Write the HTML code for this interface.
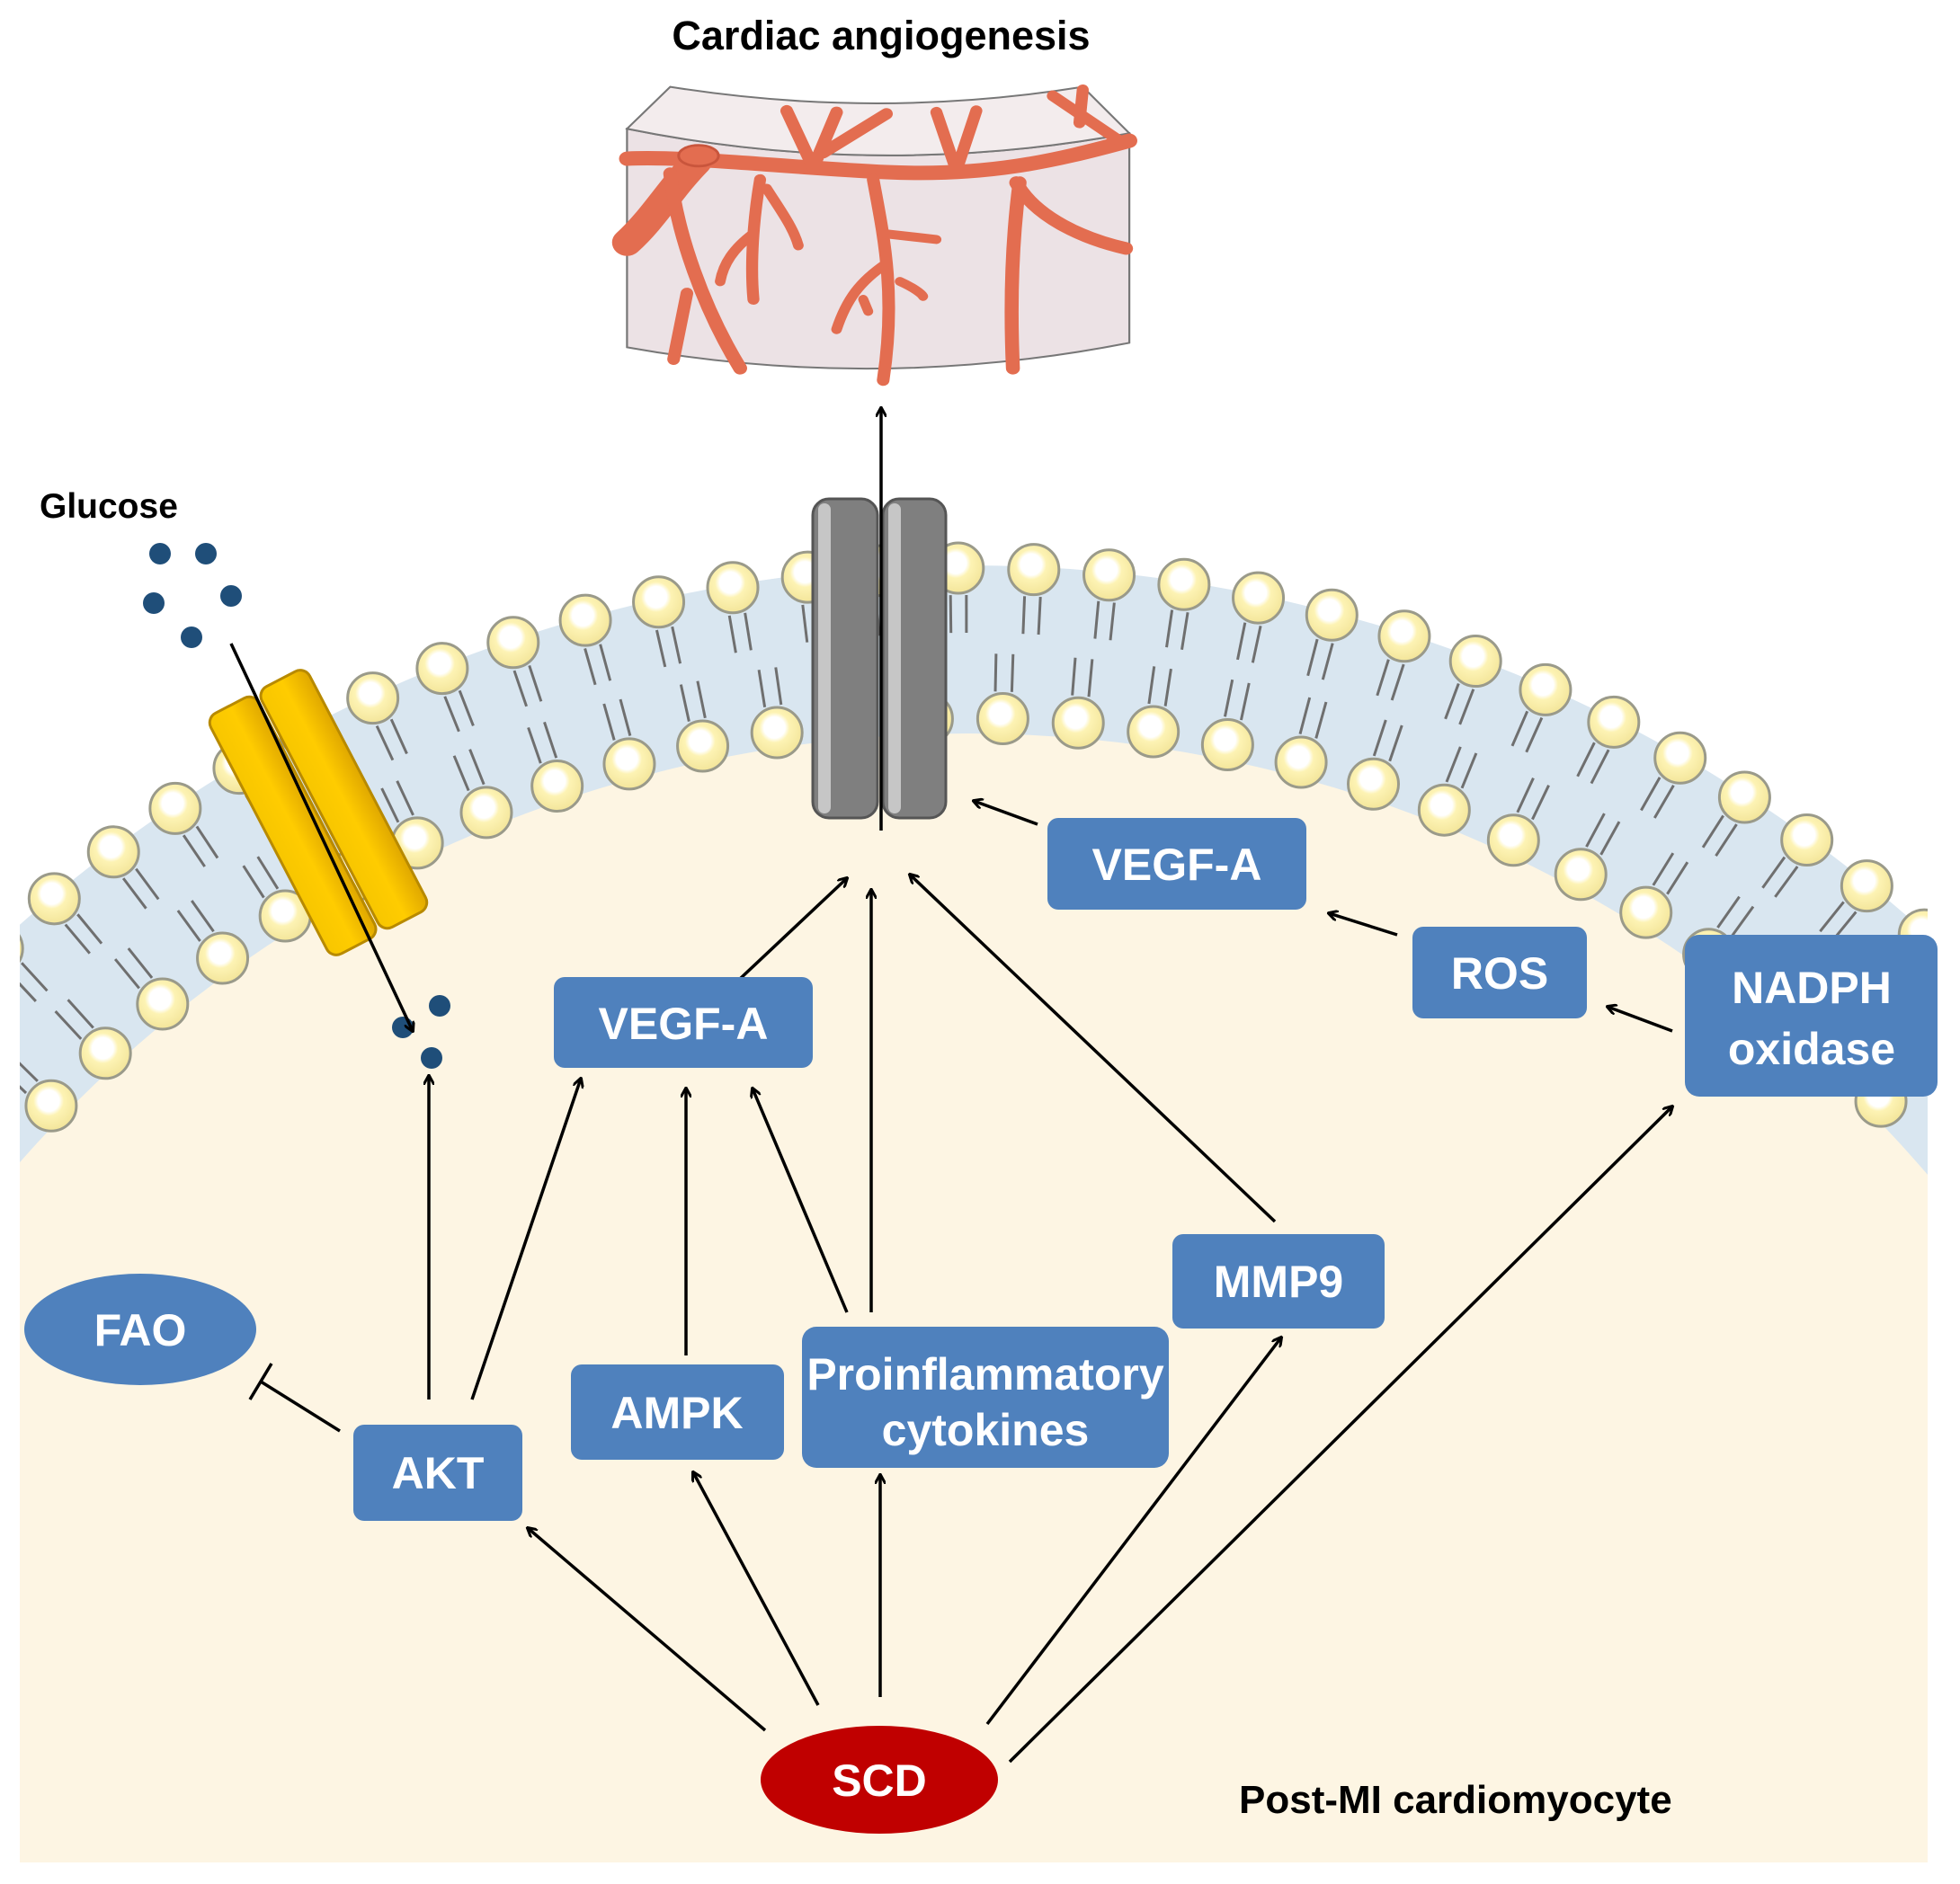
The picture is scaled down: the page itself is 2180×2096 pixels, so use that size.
<!DOCTYPE html>
<html><head><meta charset="utf-8"><style>
html,body{margin:0;padding:0;background:#fff;overflow:hidden;width:2180px;height:2096px}
svg{display:block}
.t{font-family:"Liberation Sans",Arial,sans-serif;font-weight:bold}
.b{fill:#4f81bd}
.bt{fill:#fff;font-size:50px;text-anchor:middle}
</style></head><body>
<svg id="s" width="2180" height="2096" viewBox="0 0 2180 2096" xmlns="http://www.w3.org/2000/svg">
<defs>
<clipPath id="cl"><rect x="22" y="0" width="2122" height="2072"/></clipPath>
<marker id="ah" markerWidth="12" markerHeight="12" refX="10" refY="6" orient="auto" markerUnits="userSpaceOnUse"><path d="M0,0 L11,6 L0,12" fill="none" stroke="#000" stroke-width="3"/></marker>
<radialGradient id="hg" cx="0.45" cy="0.4" r="0.6"><stop offset="0" stop-color="#fff"/><stop offset="0.35" stop-color="#fff"/><stop offset="0.5" stop-color="#fdf3b4"/><stop offset="1" stop-color="#f3e59a"/></radialGradient>
<linearGradient id="yg" x1="0" x2="1"><stop offset="0" stop-color="#f7c600"/><stop offset="0.5" stop-color="#ffcc00"/><stop offset="1" stop-color="#e0a800"/></linearGradient>
</defs>
<rect width="2180" height="2096" fill="#fff"/>
<g clip-path="url(#cl)">
<circle cx="1077" cy="2221" r="1592" fill="#d9e6f0"/>
<circle cx="1077" cy="2221" r="1405" fill="#fdf5e3"/>
<g id="mem"></g>
</g>
<rect x="22" y="1900" width="2122" height="172" fill="#fdf5e3"/>

<!-- tissue -->
<g transform="translate(690,60) scale(0.37,0.333)">
<path d="M20,250 Q775,420 1530,265 L1530,965 Q775,1130 20,980 Z" fill="#ece2e5" stroke="#777" stroke-width="6"/>
<path d="M150,110 Q770,220 1390,110 L1530,265 Q775,420 20,250 Z" fill="#f3eced" stroke="#777" stroke-width="6"/>
<g fill="none" stroke="#e36d50" stroke-linecap="round">
<path d="M20,350 C200,340 500,380 800,395 S1300,360 1530,290" stroke-width="48"/>
<path d="M230,360 C150,450 100,550 20,630" stroke-width="90"/>
<path d="M150,400 C170,600 250,850 360,1050" stroke-width="42"/>
<path d="M200,800 L160,1020" stroke-width="38"/>
<path d="M420,420 C400,550 390,700 400,820" stroke-width="36"/>
<path d="M440,450 C480,520 520,580 535,640" stroke-width="32"/>
<path d="M400,600 C340,650 310,700 300,760" stroke-width="32"/>
<path d="M580,380 L500,190 M580,380 L650,195 M610,330 L800,200" stroke-width="38"/>
<path d="M760,420 C790,600 830,800 790,1090" stroke-width="38"/>
<path d="M790,600 L950,620" stroke-width="30"/>
<path d="M800,700 C720,760 680,820 650,920" stroke-width="32"/>
<path d="M840,760 C880,780 905,800 910,810 M730,820 L745,860" stroke-width="30"/>
<path d="M1010,390 L950,195 M1010,390 L1070,190" stroke-width="36"/>
<path d="M1200,430 C1180,600 1170,800 1180,1050" stroke-width="42"/>
<path d="M1190,430 C1250,550 1400,620 1520,650" stroke-width="42"/>
<path d="M1500,290 L1300,140 M1380,230 L1390,120" stroke-width="36"/>
</g>
<ellipse cx="235" cy="340" rx="60" ry="35" fill="#e36d50" stroke="#c9553c" stroke-width="8"/>
</g>
<text class="t" x="980" y="55" font-size="45" text-anchor="middle">Cardiac angiogenesis</text>

<!-- gray channel -->
<g stroke="#555" stroke-width="3">
<rect x="904" y="555" width="72" height="355" rx="18" fill="#7f7f7f"/>
<rect x="982" y="555" width="70" height="355" rx="18" fill="#7f7f7f"/>
</g>
<rect x="910" y="560" width="14" height="345" rx="7" fill="#d8d8d8" opacity="0.8"/>
<rect x="988" y="560" width="14" height="345" rx="7" fill="#d8d8d8" opacity="0.8"/>

<!-- yellow transporter -->
<g transform="translate(354,904) rotate(-27.6)">
<rect x="-62" y="-151" width="60" height="302" rx="12" fill="url(#yg)" stroke="#b88a00" stroke-width="3"/>
<rect x="2" y="-151" width="60" height="302" rx="12" fill="url(#yg)" stroke="#b88a00" stroke-width="3"/>
</g>

<text class="t" x="44" y="576" font-size="39">Glucose</text>
<g fill="#1f4e79">
<circle cx="178" cy="616" r="12"/><circle cx="229" cy="616" r="12"/><circle cx="171" cy="671" r="12"/><circle cx="257" cy="663" r="12"/><circle cx="213" cy="709" r="12"/>
<circle cx="448" cy="1143" r="12"/><circle cx="489" cy="1119" r="12"/><circle cx="480" cy="1177" r="12"/>
</g>

<!-- arrows -->
<g stroke="#000" stroke-width="3.5" fill="none" marker-end="url(#ah)">
<line x1="257" y1="716" x2="459" y2="1147"/>
<line x1="980" y1="924" x2="980" y2="454"/>
<line x1="1154" y1="917" x2="1083" y2="891"/>
<line x1="1554" y1="1040" x2="1478" y2="1016"/>
<line x1="1860" y1="1147" x2="1788" y2="1120"/>
<line x1="806" y1="1105" x2="942" y2="977"/>
<line x1="969" y1="1460" x2="969" y2="990"/>
<line x1="1418" y1="1359" x2="1012" y2="973"/>
<line x1="477" y1="1557" x2="477" y2="1197"/>
<line x1="525" y1="1557" x2="646" y2="1200"/>
<line x1="763" y1="1508" x2="763" y2="1211"/>
<line x1="942" y1="1460" x2="837" y2="1211"/>
<line x1="851" y1="1925" x2="587" y2="1700"/>
<line x1="910" y1="1897" x2="771" y2="1638"/>
<line x1="979" y1="1888" x2="979" y2="1641"/>
<line x1="1098" y1="1918" x2="1425" y2="1488"/>
<line x1="1123" y1="1960" x2="1860" y2="1231"/>
</g>
<g stroke="#000" stroke-width="3.5">
<line x1="378" y1="1592" x2="290" y2="1537"/>
<line x1="278" y1="1557" x2="302" y2="1517"/>
</g>

<!-- nodes -->
<rect class="b" x="1165" y="910" width="288" height="102" rx="12"/><text class="t bt" x="1309" y="979">VEGF-A</text>
<rect class="b" x="1571" y="1031" width="194" height="102" rx="12"/><text class="t bt" x="1668" y="1100">ROS</text>
<rect class="b" x="1874" y="1040" width="281" height="180" rx="16"/><text class="t bt" x="2015" y="1116">NADPH</text><text class="t bt" x="2015" y="1184">oxidase</text>
<rect class="b" x="616" y="1087" width="288" height="101" rx="12"/><text class="t bt" x="760" y="1156">VEGF-A</text>
<ellipse class="b" cx="156" cy="1479" rx="129" ry="62"/><text class="t bt" x="156" y="1497">FAO</text>
<rect class="b" x="393" y="1585" width="188" height="107" rx="12"/><text class="t bt" x="487" y="1656">AKT</text>
<rect class="b" x="635" y="1518" width="237" height="106" rx="12"/><text class="t bt" x="753" y="1589">AMPK</text>
<rect class="b" x="892" y="1476" width="408" height="157" rx="16"/><text class="t bt" x="1096" y="1546" font-size="47">Proinflammatory</text><text class="t bt" x="1096" y="1608" font-size="47">cytokines</text>
<rect class="b" x="1304" y="1373" width="236" height="105" rx="12"/><text class="t bt" x="1422" y="1443">MMP9</text>
<ellipse cx="978" cy="1980" rx="132" ry="60" fill="#c00000"/><text class="t bt" x="978" y="1998">SCD</text>
<text class="t" x="1378" y="2017" font-size="44">Post-MI cardiomyocyte</text>
</svg>
<script>
(function(){
var g=document.getElementById('mem'),cx=1077,cy=2221,h='';
function layer(R,dir){
 var step=84/R;
 for(var a=-0.80;a<=0.82;a+=step){
  var s=Math.sin(a),c=Math.cos(a);
  var x=cx+R*s,y=cy-R*c;
  var r1=R+dir*30,r2=R+dir*72;
  for(var k=-1;k<=1;k+=2){
   var o=k*9/R;
   var s2=Math.sin(a+o),c2=Math.cos(a+o);
   h+='<line x1="'+(cx+r1*s2)+'" y1="'+(cy-r1*c2)+'" x2="'+(cx+r2*s2)+'" y2="'+(cy-r2*c2)+'" stroke="#6f6f6f" stroke-width="3"/>';
  }
  h+='<circle cx="'+x+'" cy="'+y+'" r="28" fill="url(#hg)" stroke="#9a9a8a" stroke-width="3"/>';
 }
}
layer(1589,-1);layer(1422,1);
g.innerHTML=h;
})();
</script>
</body></html>
